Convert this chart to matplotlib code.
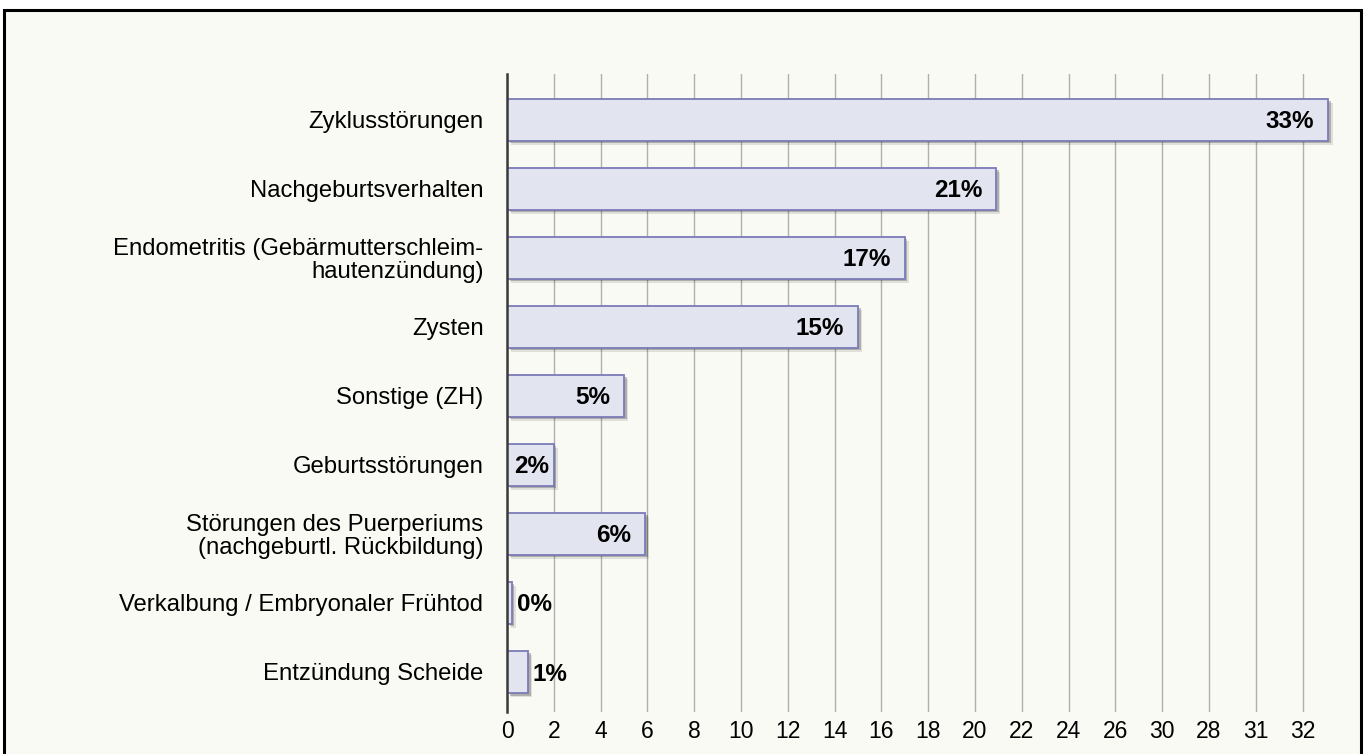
import matplotlib.pyplot as plt
import matplotlib.patheffects as pe
from matplotlib.patches import Rectangle
import numpy as np

plt.rcParams['font.family'] = ['Liberation Sans', 'DejaVu Sans']

# categories, top to bottom
categories = [
    "Zyklusstörungen",
    "Nachgeburtsverhalten",
    "Endometritis (Gebärmutterschleim-\nhautenzündung)",
    "Zysten",
    "Sonstige (ZH)",
    "Geburtsstörungen",
    "Störungen des Puerperiums\n(nachgeburtl. Rückbildung)",
    "Verkalbung / Embryonaler Frühtod",
    "Entzündung Scheide",
]
# bar lengths as drawn on the axis
bar_len = [35.1, 20.9, 17.0, 15.0, 5.0, 2.0, 5.9, 0.2, 0.9]
# printed labels
pct_labels = ["33%", "21%", "17%", "15%", "5%", "2%", "6%", "0%", "1%"]

# tick positions and the (odd) labels as printed
tick_pos = list(range(0, 35, 2))
tick_labels = ["0", "2", "4", "6", "8", "10", "12", "14", "16", "18", "20",
               "22", "24", "26", "30", "28", "31", "32"]

W, H = 1371, 754
fig = plt.figure(figsize=(W / 100, H / 100), dpi=100)
fig.patch.set_facecolor("white")

# outer frame
frame = Rectangle((4 / W, -0.05), 1357 / W, 1.05 - 10 / H,
                  transform=fig.transFigure, facecolor="#fafaf4",
                  edgecolor="black", lw=2.2, zorder=-10)
fig.patches.append(frame)

ax = fig.add_axes([507 / W, 1 - 712 / H, (1340 - 507) / W, (712 - 74) / H])
ax.set_facecolor("none")
ax.set_zorder(5)

y = np.arange(len(categories))
shadow = [pe.SimplePatchShadow(offset=(3, -3), shadow_rgbFace="#000000", alpha=0.10),
          pe.SimplePatchShadow(offset=(1.8, -1.8), shadow_rgbFace="#000000", alpha=0.22),
          pe.Normal()]
bars = ax.barh(y, bar_len, height=0.61, color="#e2e5f0", edgecolor="#7b7bb8",
               linewidth=1.3, zorder=3)
for b in bars:
    b.set_path_effects(shadow)

for i, (v, lab) in enumerate(zip(bar_len, pct_labels)):
    if v >= 1.5:
        off = -10 if v > 3 else -3.5
        ax.annotate(lab, (v, i), xytext=(off, -1.5), textcoords="offset points",
                    ha="right", va="center", fontsize=17.5, fontweight="bold",
                    zorder=5)
    else:
        ax.annotate(lab, (v, i), xytext=(3.5, -1.5), textcoords="offset points",
                    ha="left", va="center", fontsize=17.5, fontweight="bold",
                    zorder=5)

ax.set_xlim(0, (1340 - 507) / 23.4)
ax.set_ylim(8.58, -0.66)
ax.set_xticks(tick_pos)
ax.set_xticklabels(tick_labels, fontsize=16.5)
ax.set_yticks(y)
ax.set_yticklabels(categories, fontsize=17.2, linespacing=1.05)
ax.tick_params(axis="both", length=0)
ax.tick_params(axis="y", pad=17)
ax.tick_params(axis="x", pad=6)
for lab in ax.get_yticklabels():
    lab.set_multialignment("right")

ax.grid(axis="x", color="#b0b0b0", lw=1.0, zorder=0)
ax.set_axisbelow(True)
for s in ["top", "right", "bottom"]:
    ax.spines[s].set_visible(False)
ax.spines["left"].set_color("#3a3a3a")
ax.spines["left"].set_linewidth(1.8)
ax.spines["left"].set_zorder(4)

fig.savefig("out.png", dpi=100)
